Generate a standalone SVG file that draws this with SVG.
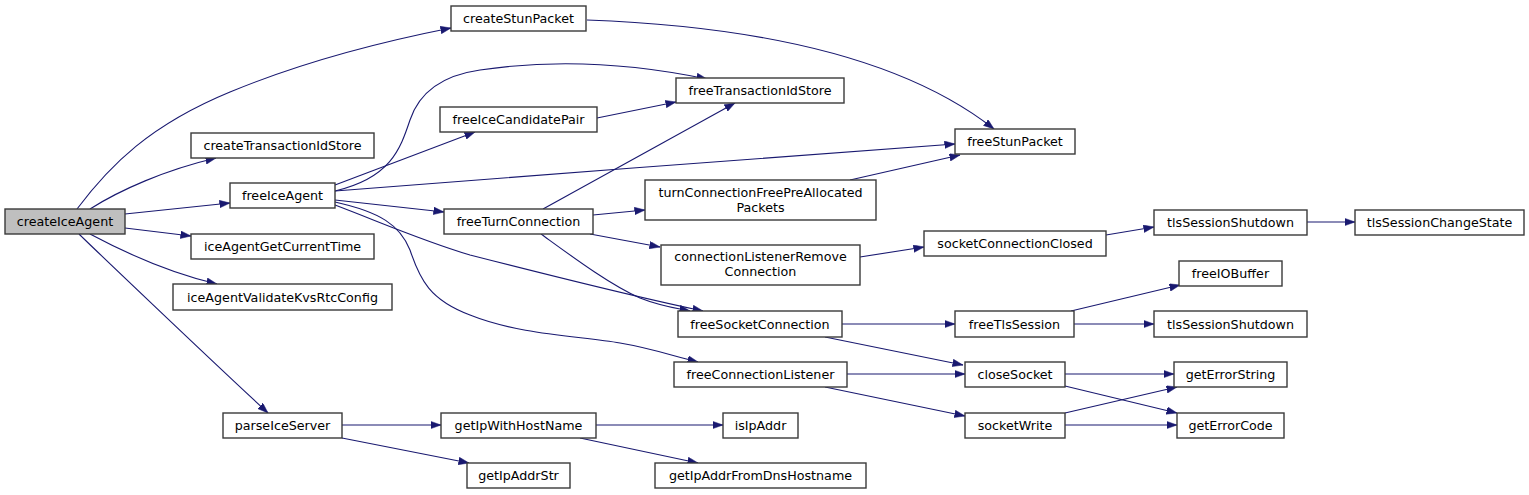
<svg xmlns="http://www.w3.org/2000/svg" width="1529" height="495" viewBox="0 0 1529 495">
<style>
.n rect{fill:#ffffff;stroke:#3a3a3a;stroke-width:1.4}
.n.root rect{fill:#bfbfbf}
.n text{font-family:"DejaVu Sans","Liberation Sans",sans-serif;font-size:12.7px;fill:#000000;text-anchor:middle}
.e path{fill:none;stroke:#191970;stroke-width:1.1;marker-end:url(#arr)}
</style>
<defs>
<marker id="arr" markerUnits="userSpaceOnUse" markerWidth="11" markerHeight="8" refX="10.5" refY="3.75" orient="auto">
<path d="M0,0 L10.5,3.75 L0,7.5 z" fill="#191970" stroke="#191970" stroke-width="0.5"/>
</marker>
</defs>
<rect width="1529" height="495" fill="#ffffff"/>
<g id="edges" class="e">
<path d="M77,209 C110,165 150,125 230,92 C300,63 380,42 451,28"/>
<path d="M90,209 C120,190 165,170 216,158"/>
<path d="M125,214 L230,203"/>
<path d="M125,228 L191,236"/>
<path d="M90,234 C120,250 165,272 217,284"/>
<path d="M79,234 C85,240 200,350 268,413"/>
<path d="M587,20 C750,26 900,55 994,129"/>
<path d="M335,191 C390,178 400,150 410,120 C420,90 445,75 480,70 C560,58 640,65 707,79"/>
<path d="M335,185 L475,132"/>
<path d="M597,118 L676,102"/>
<path d="M335,191 C500,178 800,155 955,144"/>
<path d="M335,200 L444,212"/>
<path d="M850,180 L960,155"/>
<path d="M543,209 L735,103"/>
<path d="M593,215 L645,210"/>
<path d="M590,234 L660,247"/>
<path d="M541,234 C570,255 610,285 640,298 C660,306 675,308 690,311"/>
<path d="M335,205 C380,222 420,240 470,255 C560,278 640,298 703,311"/>
<path d="M335,202 C380,212 400,225 410,250 C420,280 430,300 470,315 C520,335 580,336 620,343 C650,348 670,355 698,362"/>
<path d="M860,257 L924,247"/>
<path d="M1106,235 L1154,227"/>
<path d="M1307,222 L1355,222"/>
<path d="M842,324 L955,324"/>
<path d="M825,337 L963,365"/>
<path d="M847,374 L965,374"/>
<path d="M825,387 L965,416"/>
<path d="M1071,311 L1180,285"/>
<path d="M1074,324 L1154,324"/>
<path d="M1065,374 L1174,374"/>
<path d="M1065,386 L1177,413"/>
<path d="M1065,413 L1177,387"/>
<path d="M1065,425 L1177,425"/>
<path d="M342,425 L441,425"/>
<path d="M342,438 L469,463"/>
<path d="M596,425 L723,425"/>
<path d="M580,438 L698,463"/>
</g>
<g id="node-createIceAgent" class="n root"><rect x="5" y="209" width="120" height="25"/><text x="65" y="226">createIceAgent</text></g>
<g id="node-createStunPacket" class="n"><rect x="451" y="6" width="135" height="25"/><text x="518.5" y="23">createStunPacket</text></g>
<g id="node-createTransactionIdStore" class="n"><rect x="191" y="133" width="183" height="25"/><text x="282.5" y="150">createTransactionIdStore</text></g>
<g id="node-freeIceAgent" class="n"><rect x="230" y="183" width="105" height="25"/><text x="282.5" y="200">freeIceAgent</text></g>
<g id="node-iceAgentGetCurrentTime" class="n"><rect x="191" y="234" width="183" height="25"/><text x="282.5" y="251">iceAgentGetCurrentTime</text></g>
<g id="node-iceAgentValidateKvsRtcConfig" class="n"><rect x="173" y="284" width="219" height="26"/><text x="282.5" y="301.5">iceAgentValidateKvsRtcConfig</text></g>
<g id="node-parseIceServer" class="n"><rect x="223" y="413" width="119" height="25"/><text x="282.5" y="430">parseIceServer</text></g>
<g id="node-freeTransactionIdStore" class="n"><rect x="676" y="78" width="168" height="25"/><text x="760" y="95">freeTransactionIdStore</text></g>
<g id="node-freeIceCandidatePair" class="n"><rect x="440" y="107" width="157" height="25"/><text x="518.5" y="124">freeIceCandidatePair</text></g>
<g id="node-freeStunPacket" class="n"><rect x="955" y="129" width="120" height="25"/><text x="1015" y="146">freeStunPacket</text></g>
<g id="node-turnConnectionFreePreAllocatedPackets" class="n"><rect x="645" y="180" width="231" height="40"/><text x="760.5" y="196.5">turnConnectionFreePreAllocated</text><text x="760.5" y="211.5">Packets</text></g>
<g id="node-freeTurnConnection" class="n"><rect x="444" y="209" width="149" height="25"/><text x="518.5" y="226">freeTurnConnection</text></g>
<g id="node-connectionListenerRemoveConnection" class="n"><rect x="661" y="245" width="199" height="40"/><text x="760.5" y="260.5">connectionListenerRemove</text><text x="760.5" y="276">Connection</text></g>
<g id="node-freeSocketConnection" class="n"><rect x="678" y="311" width="164" height="26"/><text x="760" y="328.5">freeSocketConnection</text></g>
<g id="node-freeConnectionListener" class="n"><rect x="674" y="362" width="173" height="25"/><text x="760.5" y="379">freeConnectionListener</text></g>
<g id="node-getIpWithHostName" class="n"><rect x="441" y="413" width="155" height="25"/><text x="518.5" y="430">getIpWithHostName</text></g>
<g id="node-getIpAddrStr" class="n"><rect x="467" y="463" width="103" height="25"/><text x="518.5" y="480">getIpAddrStr</text></g>
<g id="node-isIpAddr" class="n"><rect x="723" y="413" width="75" height="25"/><text x="760.5" y="430">isIpAddr</text></g>
<g id="node-getIpAddrFromDnsHostname" class="n"><rect x="655" y="463" width="211" height="25"/><text x="760.5" y="480">getIpAddrFromDnsHostname</text></g>
<g id="node-socketConnectionClosed" class="n"><rect x="924" y="231" width="182" height="25"/><text x="1015" y="248">socketConnectionClosed</text></g>
<g id="node-tlsSessionShutdown-1" class="n"><rect x="1154" y="210" width="153" height="25"/><text x="1230.5" y="227">tlsSessionShutdown</text></g>
<g id="node-tlsSessionChangeState" class="n"><rect x="1355" y="210" width="169" height="25"/><text x="1439.5" y="227">tlsSessionChangeState</text></g>
<g id="node-freeIOBuffer" class="n"><rect x="1179" y="261" width="103" height="25"/><text x="1230.5" y="278">freeIOBuffer</text></g>
<g id="node-freeTlsSession" class="n"><rect x="955" y="311" width="119" height="26"/><text x="1014.5" y="328.5">freeTlsSession</text></g>
<g id="node-tlsSessionShutdown-2" class="n"><rect x="1154" y="311" width="153" height="26"/><text x="1230.5" y="328.5">tlsSessionShutdown</text></g>
<g id="node-closeSocket" class="n"><rect x="965" y="362" width="100" height="25"/><text x="1015" y="379">closeSocket</text></g>
<g id="node-socketWrite" class="n"><rect x="965" y="413" width="100" height="25"/><text x="1015" y="430">socketWrite</text></g>
<g id="node-getErrorString" class="n"><rect x="1174" y="362" width="113" height="25"/><text x="1230.5" y="379">getErrorString</text></g>
<g id="node-getErrorCode" class="n"><rect x="1177" y="413" width="107" height="25"/><text x="1230.5" y="430">getErrorCode</text></g>
</svg>
